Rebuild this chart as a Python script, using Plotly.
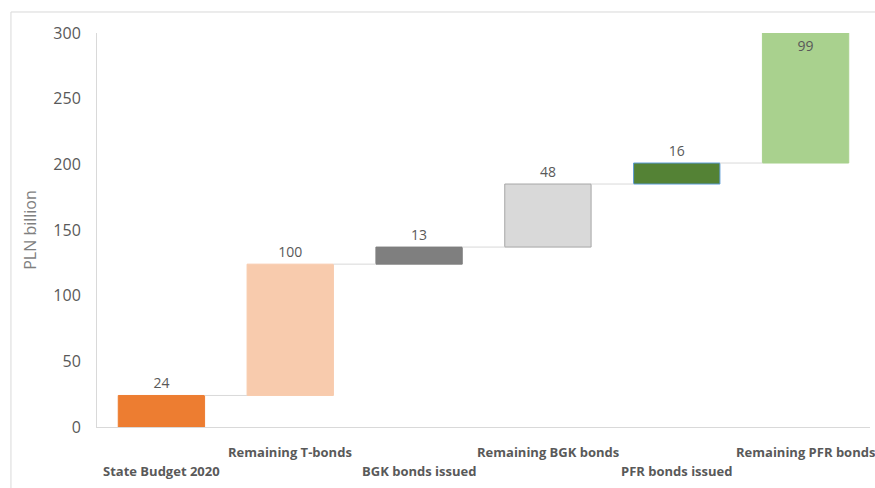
import plotly.graph_objects as go

categories = ["State Budget 2020", "Remaining T-bonds", "BGK bonds issued",
              "Remaining BGK bonds", "PFR bonds issued", "Remaining PFR bonds"]
values = [24, 100, 13, 48, 16, 99]
colors = ["#ED7D31", "#F8CBAD", "#7F7F7F", "#D9D9D9", "#548235", "#A9D18E"]
line_colors = ["#ED7D31", "#F8CBAD", "#7F7F7F", "#A6A6A6", "#5B9BD5", "#A9D18E"]
y_ticks = [0, 50, 100, 150, 200, 250, 300]

bases = []
running = 0
for v in values:
    bases.append(running)
    running += v
tops = [b + v for b, v in zip(bases, values)]

BAR_W = 0.67
FONT = "Open Sans"
TXT = "#595959"

fig = go.Figure()
fig.add_trace(go.Bar(
    x=categories, y=values, base=bases, width=BAR_W,
    marker=dict(color=colors, line=dict(color=line_colors, width=1)),
    text=[str(v) for v in values],
    textposition=["outside"] * (len(values) - 1) + ["inside"],
    insidetextanchor="end",
    textfont=dict(family=FONT, size=14, color=TXT),
    cliponaxis=False,
    hoverinfo="skip",
))

shapes = []
for i in range(len(values) - 1):
    shapes.append(dict(type="line", xref="x", yref="y",
                       x0=i + BAR_W / 2, x1=i + 1 - BAR_W / 2,
                       y0=tops[i], y1=tops[i],
                       line=dict(color="#D9D9D9", width=1)))
# outer frame (left & top edges)
shapes.append(dict(type="line", xref="paper", yref="paper", x0=-0.1113, x1=1.2,
                   y0=1.0533, y1=1.0533, line=dict(color="#D9D9D9", width=1)))
shapes.append(dict(type="line", xref="paper", yref="paper", x0=-0.1113, x1=-0.1113,
                   y0=-0.3, y1=1.0533, line=dict(color="#D9D9D9", width=1)))

annotations = []
for i, c in enumerate(categories):
    annotations.append(dict(
        x=c, xref="x", y=0, yref="paper", yanchor="top", xanchor="center",
        text="<b>" + c + "</b>", showarrow=False,
        yshift=-14 if i % 2 == 1 else -33,
        font=dict(family=FONT, size=13, color=TXT),
    ))

fig.update_layout(
    width=875, height=488,
    margin=dict(l=97, r=5, t=33, b=61),
    paper_bgcolor="white", plot_bgcolor="white",
    showlegend=False,
    bargap=1 - BAR_W,
    shapes=shapes,
    annotations=annotations,
    xaxis=dict(type="category", range=[-0.5, len(categories) - 0.5],
               showticklabels=False, showgrid=False, zeroline=False,
               showline=True, linecolor="#D9D9D9", linewidth=1, ticks=""),
    yaxis=dict(range=[0, 300], tickvals=y_ticks, showgrid=False, zeroline=False,
               showline=True, linecolor="#D9D9D9", linewidth=1, ticks="",
               ticklabelstandoff=12,
               tickfont=dict(family=FONT, size=16, color=TXT),
               title=dict(text="PLN billion", standoff=12,
                          font=dict(family=FONT, size=16, color="#7F7F7F"))),
)

fig.write_html("out.html")
